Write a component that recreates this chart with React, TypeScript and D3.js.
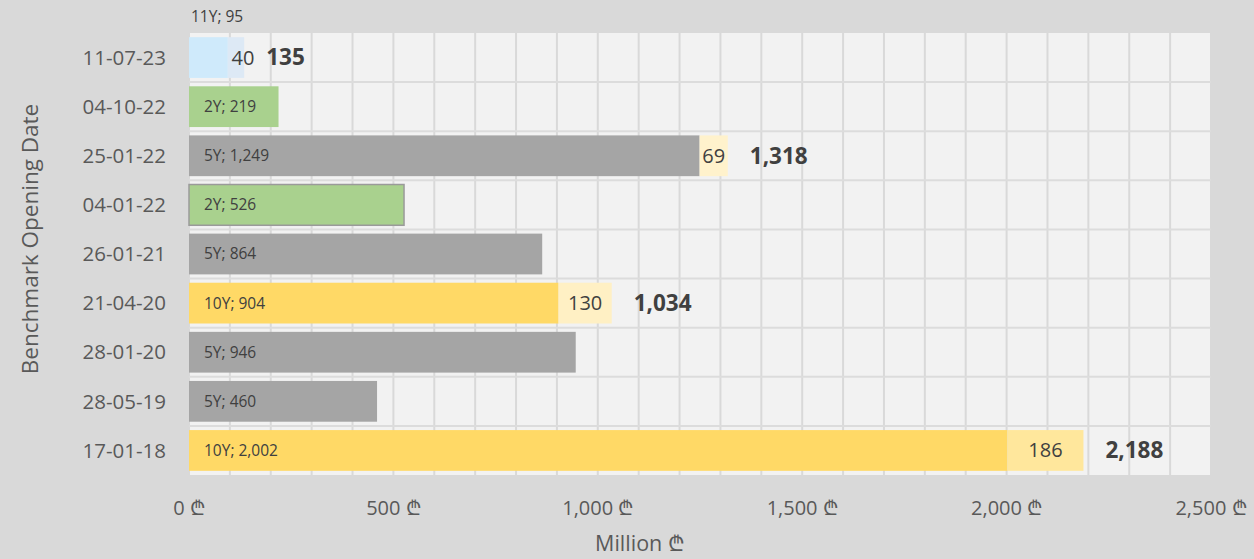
import React from "react";
import * as d3 from "d3";

const dates = ["11-07-23", "04-10-22", "25-01-22", "04-01-22", "26-01-21", "21-04-20", "28-01-20", "28-05-19", "17-01-18"];
const tenors = ["11Y", "2Y", "5Y", "2Y", "5Y", "10Y", "5Y", "5Y", "10Y"];
const firstValues = [95, 219, 1249, 526, 864, 904, 946, 460, 2002];
const reopenValues = [40, 0, 69, 0, 0, 130, 0, 0, 186];
const xTicks = [0, 500, 1000, 1500, 2000, 2500];

const W = 1254, H = 559;
const plot = { left: 189, right: 1211, top: 33, bottom: 475 };

const baseColor: Record<string, string> = { "11Y": "#cfeafb", "2Y": "#a9d18e", "5Y": "#a5a5a5", "10Y": "#ffd966" };
const reopenColor: Record<string, string> = { "11Y": "#dde9f5", "10Y": "#fff0c4" };

const FONT = "'Open Sans', 'DejaVu Sans', sans-serif";

export default function App() {
  const x = d3.scaleLinear().domain([0, 2500]).range([plot.left, plot.right]);
  const y = d3.scaleBand().domain(dates).range([plot.top, plot.bottom]).paddingInner(0.17).paddingOuter(0.085);
  const fmt = d3.format(",");
  const gridX = d3.range(0, 2501, 100);
  const rowBounds = d3.range(1, dates.length).map((i) => plot.top + i * ((plot.bottom - plot.top) / dates.length));

  return (
    <svg width={W} height={H} style={{ position: "absolute", left: 0, top: 0, fontFamily: FONT }}>
      <rect x={0} y={0} width={W} height={H} fill="#d9d9d9" />
      <rect x={plot.left} y={plot.top} width={plot.right - plot.left} height={plot.bottom - plot.top} fill="#f2f2f2" />
      {gridX.map((v) => (
        <line key={"gx" + v} x1={x(v)} x2={x(v)} y1={plot.top} y2={plot.bottom} stroke="#d9d9d9" strokeWidth={2} />
      ))}
      {rowBounds.map((yy, i) => (
        <line key={"gy" + i} x1={plot.left} x2={plot.right} y1={yy} y2={yy} stroke="#dcdcdc" strokeWidth={2} />
      ))}
      {dates.map((d, i) => {
        const t = tenors[i];
        const v1 = firstValues[i];
        const v2 = reopenValues[i];
        const yy = y(d)!;
        const bh = y.bandwidth();
        const cy = yy + bh / 2;
        const total = v1 + v2;
        const reColor = t === "10Y" && v2 > 150 ? "#ffe79c" : reopenColor[t] || "#fff2cc";
        return (
          <g key={d}>
            <rect x={x(0)} y={yy} width={x(v1) - x(0)} height={bh} fill={baseColor[t]}
              stroke={d === "04-01-22" ? "#9a9a9a" : "none"} strokeWidth={d === "04-01-22" ? 1.5 : 0} />
            {v2 > 0 && (
              <rect x={x(v1)} y={yy} width={x(total) - x(v1)} height={bh} fill={reColor} />
            )}
            {t === "11Y" ? (
              <text x={191} y={22} fontSize={15.5} fill="#404040">{`${t}; ${fmt(v1)}`}</text>
            ) : (
              <text x={204} y={cy} dy="0.35em" fontSize={15.5} fill="#404040">{`${t}; ${fmt(v1)}`}</text>
            )}
            {v2 > 0 && (
              <text x={(x(v1) + x(total)) / 2 + (t === "11Y" ? 7 : 0)} y={cy} dy="0.35em" fontSize={20} fill="#404040" textAnchor="middle">{fmt(v2)}</text>
            )}
            {v2 > 0 && (
              <text x={x(total) + 22} y={cy} dy="0.35em" fontSize={22.5} fontWeight="bold" fill="#404040">{fmt(total)}</text>
            )}
            <text x={166} y={cy} dy="0.35em" fontSize={20.5} fill="#595959" textAnchor="end">{d}</text>
          </g>
        );
      })}
      {xTicks.map((v) => (
        <text key={"xt" + v} x={x(v)} y={508} dy="0.35em" fontSize={20} fill="#595959" textAnchor="middle">{`${fmt(v)} ₾`}</text>
      ))}
      <text x={640} y={543} dy="0.35em" fontSize={21.5} fill="#595959" textAnchor="middle">Million ₾</text>
      <text transform={`translate(30, ${(plot.top + plot.bottom) / 2 - 15}) rotate(-90)`} dy="0.35em" fontSize={22.5} fill="#595959" textAnchor="middle">Benchmark Opening Date</text>
    </svg>
  );
}
